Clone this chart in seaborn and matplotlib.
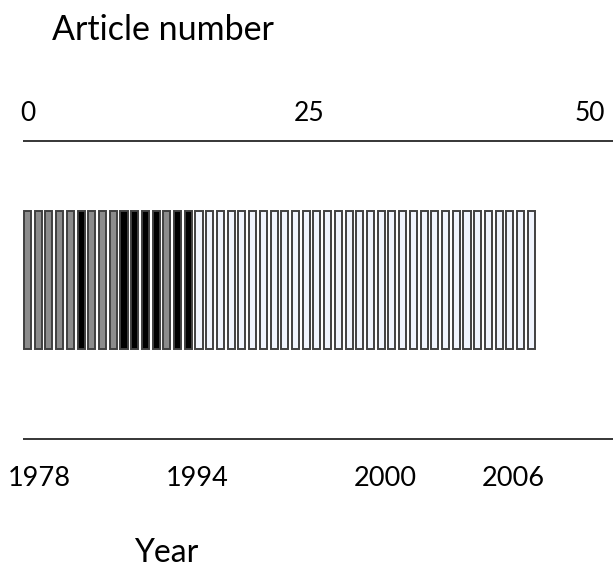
import matplotlib
matplotlib.use("Agg")
import matplotlib.pyplot as plt
import seaborn as sns
import pandas as pd

# ----------------------------------------------------------
# Data
# ----------------------------------------------------------

# one bar per article, coloured by group
article_groups = (
    ["grey"] * 5 + ["black"] + ["grey"] * 3 + ["black"] * 4
    + ["grey"] + ["black"] * 2 + ["white"] * 32
)
article_numbers = list(range(1, len(article_groups) + 1))

group_colors = {"grey": "#8c8c8c", "black": "#000000", "white": "#eef3ff"}

article_ticks = [0, 25, 50]
article_tick_labels = ["0", "25", "50"]

# year labels, placed at the article index where they fall
year_labels = ["1978", "1994", "2000", "2006"]
year_positions = [1.1, 15.8, 33.4, 45.3]

df = pd.DataFrame({
    "article": article_numbers,
    "present": [1] * len(article_numbers),
    "group": article_groups,
})

# ----------------------------------------------------------
# Figure
# ----------------------------------------------------------

sns.set_theme(style="white")
plt.rcParams["font.family"] = ["Lato", "DejaVu Sans"]

fig = plt.figure(figsize=(6.13, 5.76), dpi=100)
ax = fig.add_axes([0, 0, 1, 1])

sns.barplot(
    data=df,
    x="article",
    y="present",
    hue="group",
    palette=group_colors,
    dodge=False,
    width=0.66,
    errorbar=None,
    edgecolor="#404040",
    linewidth=1.4,
    legend=False,
    ax=ax,
)

ax.set_axis_off()
ax.set_xlim(-2.565, 54.62)
ax.set_ylim(-1.645, 2.529)

# axis lines
ax.plot([-0.45, 54.62], [1.505, 1.505], color="black", lw=1.1,
        solid_capstyle="butt")
ax.plot([-0.45, 54.62], [-0.652, -0.652], color="black", lw=1.1,
        solid_capstyle="butt")

# top scale (article number)
scale = 1.05
for t, lab in zip(article_ticks, article_tick_labels):
    ax.text(t * scale, 1.652, lab, ha="center", va="baseline",
            fontsize=19, color="black")

# bottom labels (year)
for p, lab in zip(year_positions, year_labels):
    ax.text(p, -0.991, lab, ha="center", va="baseline",
            fontsize=19.5, color="black")

fig.text(51.7 / 613, 1 - 40 / 576, "Article number", ha="left",
         va="baseline", fontsize=24.5, color="black")
fig.text(166 / 613, 1 - 562 / 576, "Year", ha="center",
         va="baseline", fontsize=23, color="black")

fig.savefig("out.png", dpi=100)
